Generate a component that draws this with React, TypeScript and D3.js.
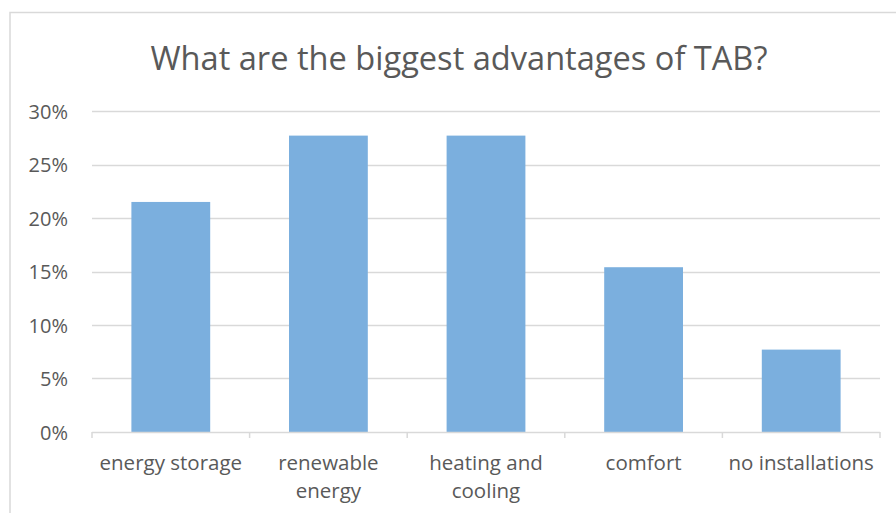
import * as React from "react";
import * as d3 from "d3";

const categories: string[] = ["energy storage", "renewable energy", "heating and cooling", "comfort", "no installations"];
const tickLines: string[][] = [["energy storage"], ["renewable", "energy"], ["heating and", "cooling"], ["comfort"], ["no installations"]];
const shares: number[] = [0.215, 0.277, 0.277, 0.154, 0.077];
const yTicks: number[] = [0, 0.05, 0.1, 0.15, 0.2, 0.25, 0.3];

const width = 896;
const height = 513;
const plot = { left: 92, right: 880, top: 111, bottom: 432 };
const textColor = "#595959";
const font = "'Open Sans', sans-serif";

export default function App() {
  const x = d3.scaleBand().domain(categories).range([plot.left, plot.right]).paddingInner(0.5).paddingOuter(0.25);
  const y = d3.scaleLinear().domain([0, 0.3]).range([plot.bottom, plot.top]);
  const fmt = d3.format(".0%");
  const edges = categories.map((c, i) => plot.left + (i * (plot.right - plot.left)) / categories.length);
  edges.push(plot.right);

  return (
    <svg width={width} height={height} style={{ position: "absolute", left: 0, top: 0 }} fontFamily={font}>
      <rect x={0} y={0} width={width} height={height} fill="#fff" />
      <rect x={10} y={12.5} width={900} height={520} fill="#fff" stroke="#d9d9d9" strokeWidth={1.5} />
      <text x={459} y={57} textAnchor="middle" dominantBaseline="central" fontSize={32.6} fill={textColor}>
        What are the biggest advantages of TAB?
      </text>
      {yTicks.map(t => (
        <g key={t}>
          {t > 0 && (
            <line x1={plot.left} x2={plot.right} y1={Math.round(y(t)) + 0.5} y2={Math.round(y(t)) + 0.5} stroke="#d9d9d9" strokeWidth={1.5} />
          )}
          <text x={68} y={y(t)} textAnchor="end" dominantBaseline="central" fontSize={20} fill={textColor}>
            {fmt(t)}
          </text>
        </g>
      ))}
      {categories.map((c, i) => (
        <rect key={c} x={x(c)} y={y(shares[i])} width={x.bandwidth()} height={plot.bottom - y(shares[i])} fill="#7BAFDE" />
      ))}
      <line x1={plot.left} x2={plot.right} y1={plot.bottom + 0.5} y2={plot.bottom + 0.5} stroke="#d9d9d9" strokeWidth={1.5} />
      {edges.map((e, i) => (
        <line key={i} x1={e} x2={e} y1={plot.bottom} y2={plot.bottom + 6} stroke="#d9d9d9" strokeWidth={1.5} />
      ))}
      {categories.map((c, i) => (
        <text key={c} x={x(c) + x.bandwidth() / 2} textAnchor="middle" fontSize={20.5} fill={textColor}>
          {tickLines[i].map((line, j) => (
            <tspan key={j} x={x(c) + x.bandwidth() / 2} y={462 + j * 28} dominantBaseline="central">
              {line}
            </tspan>
          ))}
        </text>
      ))}
    </svg>
  );
}
